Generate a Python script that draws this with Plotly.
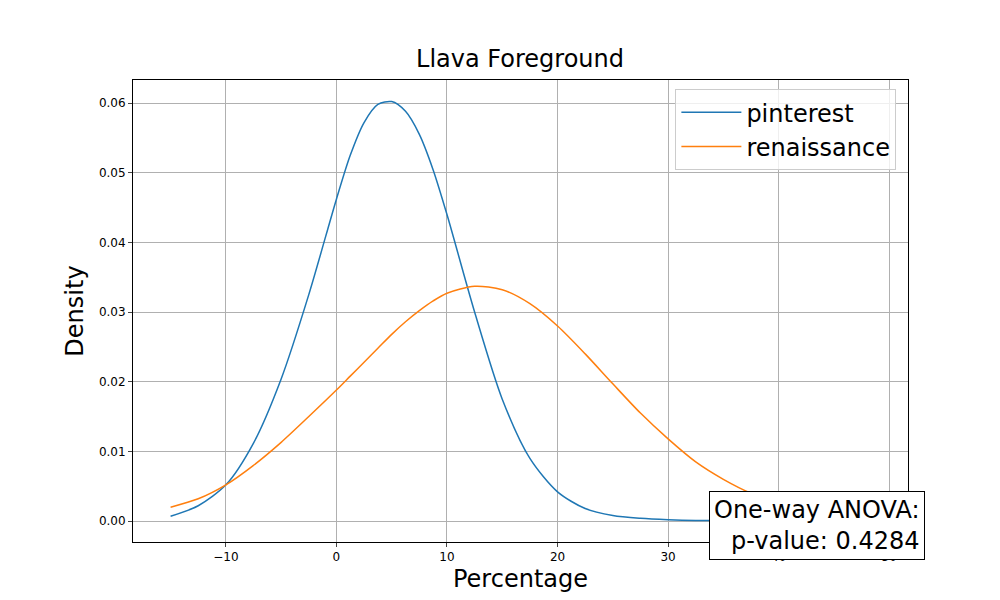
import plotly.graph_objects as go

# KDE curves
x_vals = [-15, -12.5, -10, -7.5, -5, -2.5, 0, 1.25, 2.5, 3.75, 5, 6.25, 7.5, 8.75, 10, 12.5, 15,
          17.5, 20, 22.5, 25, 27.5, 30, 32.5, 35, 37.5, 40, 42.5, 45, 47.5, 49]
pinterest = [0.0007, 0.0022, 0.0052, 0.0112, 0.0204, 0.0325, 0.0462, 0.0525, 0.0572, 0.0598,
             0.0602, 0.0588, 0.0555, 0.0504, 0.0440, 0.0300, 0.0175, 0.0090, 0.0042, 0.0018,
             0.0008, 0.0004, 0.0002, 0.0001, 0.0001, 0.0001, 0.0001, 0.0001, 0.0001, 0.0001,
             0.0001]
renaissance = [0.0020, 0.0032, 0.0052, 0.0080, 0.0113, 0.0150, 0.0188, 0.0208, 0.0228, 0.0248,
               0.0268, 0.0286, 0.0302, 0.0316, 0.0327, 0.0337, 0.0332, 0.0312, 0.0280, 0.0240,
               0.0197, 0.0155, 0.0118, 0.0085, 0.0060, 0.0040, 0.0026, 0.0016, 0.0010, 0.0006,
               0.0005]
x_ticks = [-10, 0, 10, 20, 30, 40, 50]
y_ticks = [0.00, 0.01, 0.02, 0.03, 0.04, 0.05, 0.06]

fig = go.Figure()
fig.add_trace(go.Scatter(x=x_vals, y=pinterest, mode='lines', name='pinterest',
                         line=dict(color='#1f77b4', width=1.5, shape='spline', smoothing=0.8)))
fig.add_trace(go.Scatter(x=x_vals, y=renaissance, mode='lines', name='renaissance',
                         line=dict(color='#ff7f0e', width=1.5, shape='spline', smoothing=0.8)))

axis_style = dict(showgrid=True, gridcolor='#b0b0b0', gridwidth=1, zeroline=False,
                  showline=True, mirror=True, linecolor='black', linewidth=1, automargin=False,
                  ticks='outside', ticklen=4, tickfont=dict(size=12, color='black'))
fig.update_xaxes(range=[-18.4, 51.7], tickvals=x_ticks,
                 title=dict(text='Percentage', font=dict(size=24, color='black'), standoff=6),
                 **axis_style)
fig.update_yaxes(range=[-0.003, 0.0633], tickvals=y_ticks, tickformat='.2f',
                 title=dict(text='Density', font=dict(size=24, color='black'), standoff=8),
                 **axis_style)

fig.add_annotation(text='One-way ANOVA:<br>p-value: 0.4284', xref='paper', yref='paper',
                   x=1.022, y=-0.04, xanchor='right', yanchor='bottom', align='right',
                   showarrow=False, font=dict(size=24, color='black'),
                   bgcolor='white', bordercolor='black', borderwidth=1, borderpad=4)

fig.update_layout(
    width=1000, height=600,
    title=dict(text='Llava Foreground', x=0.512, xanchor='center', y=0.93,
               font=dict(size=24, color='black')),
    font=dict(family='DejaVu Sans', color='black'),
    plot_bgcolor='white', paper_bgcolor='white',
    margin=dict(l=125, r=100, t=72, b=66),
    legend=dict(x=0.985, y=0.98, xanchor='right', yanchor='top', font=dict(size=24, color='black'),
                bgcolor='rgba(255,255,255,0.8)', bordercolor='#cccccc', borderwidth=1,
                itemwidth=60),
)

fig.write_html("out.html")
